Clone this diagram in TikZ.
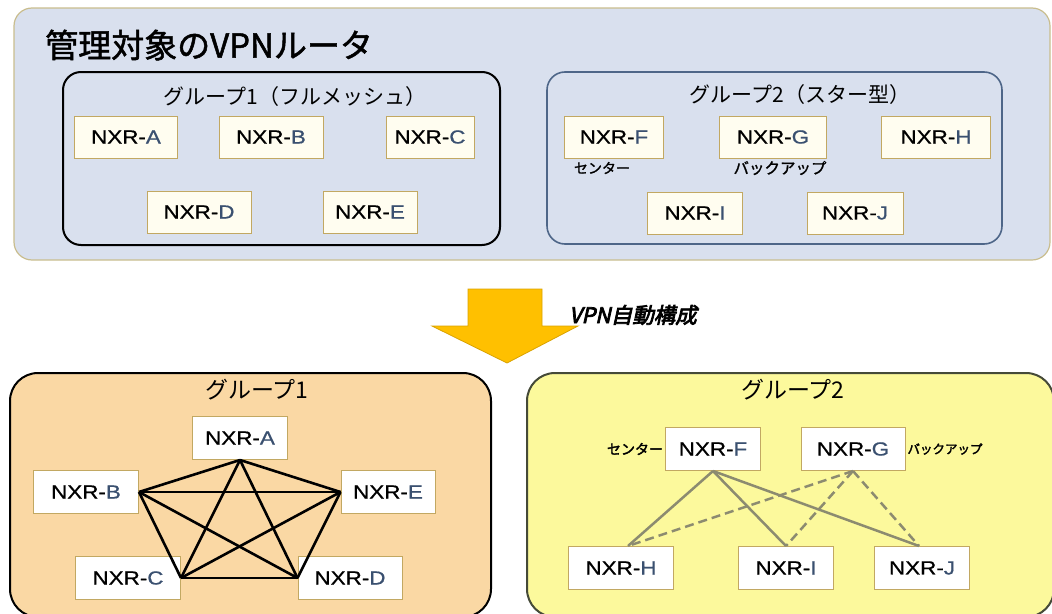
\documentclass[tikz,border=0pt]{standalone}
\usepackage{fontspec}
\newfontfamily\jp{Noto Sans CJK JP}
\newfontfamily\jpbi[FakeSlant=0.22,FakeBold=3.5]{Noto Sans CJK JP}
\newfontfamily\jpb[FakeBold=1.5]{Noto Sans CJK JP}
\newfontfamily\jpbb[FakeBold=2.5]{Noto Sans CJK JP}
\newfontfamily\lat[FakeStretch=1.18,FakeBold=0.8]{Liberation Sans}
\definecolor{panelblue}{HTML}{D9E0EE}
\definecolor{panelborder}{HTML}{C9BD8E}
\definecolor{tan}{HTML}{C2A862}
\definecolor{ivory}{HTML}{FFFDF0}
\definecolor{g2border}{HTML}{4E6688}
\definecolor{orangefill}{HTML}{FAD8A4}
\definecolor{yellowfill}{HTML}{FCF99C}
\definecolor{yborder}{HTML}{454A38}
\definecolor{arrowfill}{HTML}{FFC000}
\definecolor{arrowborder}{HTML}{D9A200}
\definecolor{sufcol}{HTML}{3A5070}
\definecolor{linkgray}{HTML}{8C8B70}
\newcommand{\suf}[1]{\textcolor{sufcol}{#1}}
\tikzset{
  nx/.style={draw=tan, line width=1pt, fill=ivory, inner sep=0pt, minimum height=42pt,
    font=\lat\fontsize{19}{19}\selectfont},
  nxw/.style={nx, fill=white},
  grptitle/.style={font=\jp\fontsize{21}{21}\selectfont, inner sep=0pt},
  bigtitle/.style={font=\jp\fontsize{23}{23}\selectfont, inner sep=0pt},
  smalllab/.style={font=\jpb\fontsize{14}{14}\selectfont, inner sep=0pt},
  mesh/.style={line width=2.6pt, black},
  starsolid/.style={line width=2.5pt, linkgray},
  stardash/.style={line width=2.5pt, linkgray, dash pattern=on 9pt off 5pt},
}
\begin{document}
\begin{tikzpicture}[x=1pt,y=-1pt]
\useasboundingbox (0,0) rectangle (1052,613);
\clip (0,0) rectangle (1052,613);
% top panel
\draw[panelborder, line width=1.2pt, fill=panelblue, rounded corners=18pt] (14,8) rectangle (1050,260);
\node[anchor=west, inner sep=0pt, font=\jpb\fontsize{33}{33}\selectfont] (title) at (45,45) {管理対象のVPNルータ};
% group 1 (top)
\draw[black, line width=2pt, rounded corners=18pt] (63,72) rectangle (500,245);
\node[grptitle] (g1t) at (295,97) {グループ1（フルメッシュ）};
\node[nx, minimum width=103pt] (uA) at (126,137) {NXR-\suf{A}};
\node[nx, minimum width=104pt] (uB) at (271,137) {NXR-\suf{B}};
\node[nx, minimum width=88pt] (uC) at (430,137) {NXR-\suf{C}};
\node[nx, minimum width=104pt] (uD) at (199,212) {NXR-\suf{D}};
\node[nx, minimum width=94pt] (uE) at (370,212) {NXR-\suf{E}};
% group 2 (top)
\draw[g2border, line width=1.6pt, rounded corners=18pt] (547,72) rectangle (1002,244);
\node[grptitle] (g2t) at (800,95) {グループ2（スター型）};
\node[nx, minimum width=99pt] (uF) at (614,137) {NXR-\suf{F}};
\node[nx, minimum width=107pt] (uG) at (773,137) {NXR-\suf{G}};
\node[nx, minimum width=109pt] (uH) at (936,137) {NXR-\suf{H}};
\node[nx, minimum width=95pt] (uI) at (695,213) {NXR-\suf{I}};
\node[nx, minimum width=96pt] (uJ) at (855,213) {NXR-\suf{J}};
\node[smalllab] (uFl) at (602,168) {センター};
\node[smalllab, font=\jpb\fontsize{15.5}{15.5}\selectfont] (uGl) at (780,168) {バックアップ};
% arrow
\draw[arrowborder, line width=0.8pt, fill=arrowfill]
  (468,289) -- (542,289) -- (542,326) -- (578,326) -- (507,363) -- (432,326) -- (468,326) -- cycle;
\node[anchor=west, inner sep=0pt, font=\jpbi\fontsize{21.5}{21.5}\selectfont] (auto) at (569,315) {VPN自動構成};
% bottom left
\draw[black, line width=2pt, fill=orangefill, rounded corners=28pt] (10,373) rectangle (491,617);
\node[bigtitle] (b1t) at (257,390) {グループ1};
\node[nxw, minimum width=95pt, minimum height=43pt] (bA) at (240,438) {NXR-\suf{A}};
\node[nxw, minimum width=105pt, minimum height=43pt] (bB) at (86,492) {NXR-\suf{B}};
\node[nxw, minimum width=94pt, minimum height=43pt] (bE) at (388,492) {NXR-\suf{E}};
\node[nxw, minimum width=105pt, minimum height=43pt] (bC) at (128,578) {NXR-\suf{C}};
\node[nxw, minimum width=104pt, minimum height=43pt] (bD) at (350,578) {NXR-\suf{D}};
\draw[mesh] (bA.south) -- (bB.east);
\draw[mesh] (bA.south) -- (bE.west);
\draw[mesh] (bA.south) -- (bC.east);
\draw[mesh] (bA.south) -- (bD.west);
\draw[mesh] (bB.east) -- (bE.west);
\draw[mesh] (bB.east) -- (bC.east);
\draw[mesh] (bB.east) -- (bD.west);
\draw[mesh] (bE.west) -- (bC.east);
\draw[mesh] (bE.west) -- (bD.west);
\draw[mesh] (bC.east) -- (bD.west);
% bottom right
\draw[yborder, line width=2pt, fill=yellowfill, rounded corners=28pt] (527,373) rectangle (1054,617);
\node[bigtitle] (b2t) at (793,390) {グループ2};
\node[nxw, minimum width=95pt, minimum height=43pt] (bF) at (713,449) {NXR-\suf{F}};
\node[nxw, minimum width=104pt, minimum height=43pt] (bG) at (853,449) {NXR-\suf{G}};
\node[nxw, minimum width=105pt, minimum height=43pt] (bH) at (621,568) {NXR-\suf{H}};
\node[nxw, minimum width=95pt, minimum height=43pt] (bI) at (786,568) {NXR-\suf{I}};
\node[nxw, minimum width=95pt, minimum height=43pt] (bJ) at (922,568) {NXR-\suf{J}};
\node[smalllab, font=\jpbb\fontsize{14}{14}\selectfont] (bFl) at (635,449) {センター};
\node[smalllab, font=\jpbb\fontsize{12.5}{12.5}\selectfont] (bGl) at (945,449) {バックアップ};
\draw[starsolid] (bF.south) -- ([xshift=7pt]bH.north);
\draw[starsolid] (bF.south) -- (bI.north);
\draw[starsolid] (bF.south) -- ([xshift=-3pt]bJ.north);
\draw[stardash] (bG.south) -- ([xshift=7pt]bH.north);
\draw[stardash] (bG.south) -- (bI.north);
\draw[stardash] (bG.south) -- ([xshift=-3pt]bJ.north);
\end{tikzpicture}
\end{document}
